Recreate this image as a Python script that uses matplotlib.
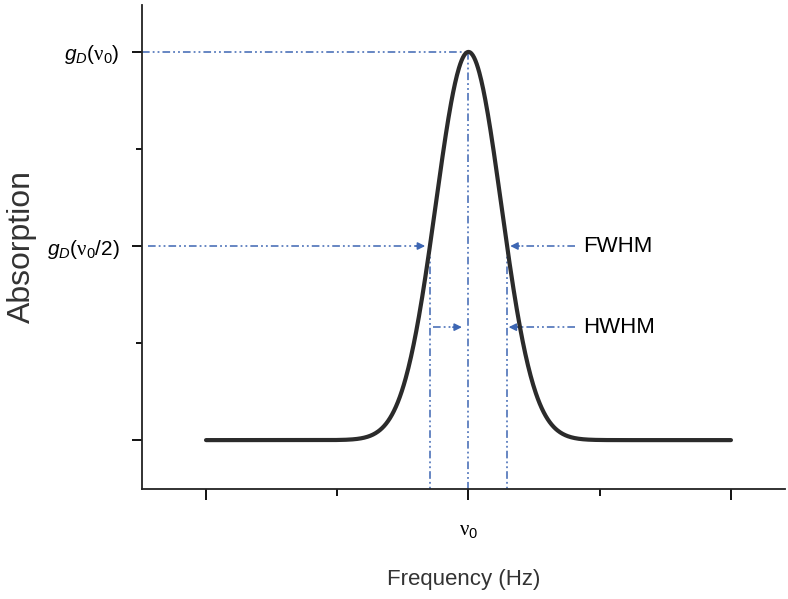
#!/usr/bin/env python3
"""Doppler-broadened absorption line with FWHM / HWHM annotations."""

import matplotlib
matplotlib.use('Agg')
import matplotlib.pyplot as plt
import numpy as np

plt.rcParams['font.family'] = ['Liberation Sans', 'DejaVu Sans']
plt.rcParams['mathtext.fontset'] = 'custom'
plt.rcParams['mathtext.rm'] = 'Liberation Sans'
plt.rcParams['mathtext.it'] = 'Liberation Sans:italic'
# serif face for the Greek nu
plt.rcParams['mathtext.sf'] = 'Liberation Serif'

# Line shape parameters (arbitrary units, centred on nu_0)
center = 0.0
peak = 1.0
hwhm = 0.147
x_span = (-1.0, 1.0)

# Tick positions and labels
x_major = [-1.0, 0.0, 1.0]
x_major_labels = ['', r'$\mathsf{ν}_0$', '']
x_minor = [-0.5, 0.5]
y_major = [0.0, 0.5, 1.0]
y_major_labels = ['', r'$g_D(\mathsf{ν}_0/2)$', r'$g_D(\mathsf{ν}_0)$']
y_minor = [0.25, 0.75]

# Annotation rows
hwhm_row = 0.291
label_x = 0.436
guide_x0 = 0.406

BLUE = '#3d66b3'
DASH = (0, (5, 2, 1.2, 2, 1.2, 2))


def gaussian(x, x0, height, half_width):
    sigma = half_width / np.sqrt(2 * np.log(2))
    return height * np.exp(-0.5 * ((x - x0) / sigma) ** 2)


def guide(ax, xs, ys):
    ax.plot(xs, ys, color=BLUE, lw=1.1, linestyle=DASH, zorder=2)


def arrow_head(ax, tip, direction):
    start = (tip[0] - direction * 0.035, tip[1])
    ax.annotate('', xy=tip, xytext=start,
                arrowprops=dict(arrowstyle='-|>', color=BLUE, lw=1.1,
                                mutation_scale=11, shrinkA=0, shrinkB=0),
                zorder=3)


def main():
    fig = plt.figure(figsize=(7.88, 5.99), dpi=100)
    ax = fig.add_axes([0.1802, 0.1836, 0.816, 0.8081])

    x = np.linspace(x_span[0], x_span[1], 800)
    ax.plot(x, gaussian(x, center, peak, hwhm), color='#2b2b2b', lw=3.0,
            solid_capstyle='round', zorder=4)

    half = peak / 2
    left, right = center - hwhm, center + hwhm
    ybot = -0.126

    # peak height guide and vertical drop lines
    guide(ax, [-1.244, center], [peak, peak])
    guide(ax, [center, center], [peak, ybot])
    guide(ax, [left, left], [half, ybot])
    guide(ax, [right, right], [half, ybot])

    # FWHM arrows
    guide(ax, [-1.22, left - 0.03], [half, half])
    arrow_head(ax, (left - 0.018, half), 1)
    guide(ax, [guide_x0, right + 0.03], [half, half])
    arrow_head(ax, (right + 0.012, half), -1)
    ax.text(label_x, half, 'FWHM', fontsize=16, va='center', ha='left')

    # HWHM arrows
    guide(ax, [left + 0.012, center - 0.04], [hwhm_row, hwhm_row])
    arrow_head(ax, (center - 0.025, hwhm_row), 1)
    guide(ax, [guide_x0, right + 0.03], [hwhm_row, hwhm_row])
    arrow_head(ax, (right + 0.006, hwhm_row), -1)
    ax.text(label_x, hwhm_row, 'HWHM', fontsize=16, va='center', ha='left')

    ax.set_xlim(-1.244, 1.206)
    ax.set_ylim(ybot, 1.121)

    ax.set_xticks(x_major)
    ax.set_xticklabels(x_major_labels, fontsize=15)
    ax.set_xticks(x_minor, minor=True)
    ax.set_yticks(y_major)
    ax.set_yticklabels(y_major_labels, fontsize=15)
    ax.set_yticks(y_minor, minor=True)

    ax.tick_params(axis='x', which='major', direction='out', length=8,
                   width=1.3, pad=16)
    ax.tick_params(axis='x', which='minor', direction='out', length=5,
                   width=1.3)
    ax.tick_params(axis='y', which='major', direction='out', length=7,
                   width=1.3, pad=9)
    ax.tick_params(axis='y', which='minor', direction='out', length=4,
                   width=1.3)

    for side in ('top', 'right'):
        ax.spines[side].set_visible(False)
    for side in ('left', 'bottom'):
        ax.spines[side].set_linewidth(1.3)
        ax.spines[side].set_color('#222222')

    ax.set_xlabel('Frequency (Hz)', fontsize=16, color='#333333')
    ax.xaxis.set_label_coords(0.5, -0.165)
    ax.set_ylabel('Absorption', fontsize=23, color='#333333')
    ax.yaxis.set_label_coords(-0.163, 0.5)

    fig.savefig('out.png', dpi=100)
    plt.close(fig)


if __name__ == '__main__':
    main()
